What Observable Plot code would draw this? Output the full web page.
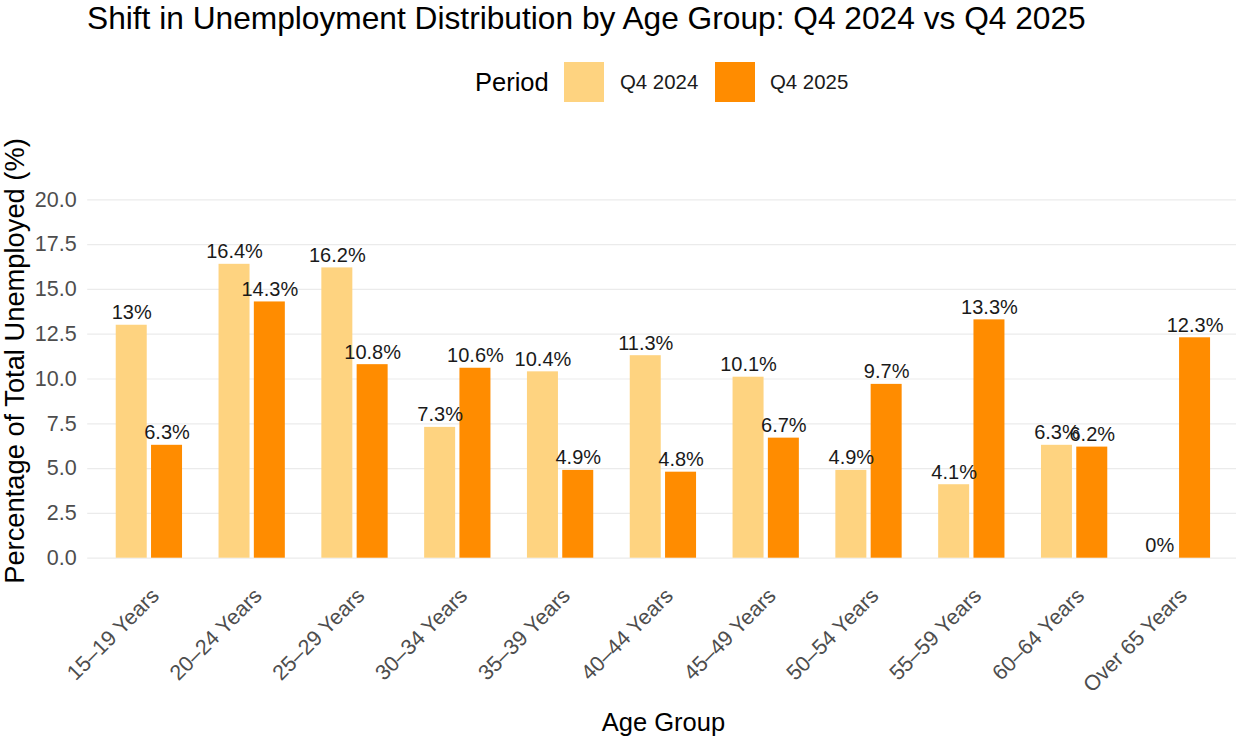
<!DOCTYPE html>
<html>
<head>
<meta charset="utf-8">
<script src="https://cdn.jsdelivr.net/npm/d3@7"></script>
<script src="https://cdn.jsdelivr.net/npm/@observablehq/plot@0.6"></script>
<style>
  html, body { margin: 0; padding: 0; background: #fff; }
  body { width: 1236px; height: 739px; overflow: hidden; font-family: "Liberation Sans", Arial, sans-serif; }
  #wrap { position: relative; width: 1236px; height: 739px; }
  #header { position: relative; width: 1236px; height: 110px; }
  #title { position: absolute; left: 87px; top: 3px; font-size: 31.7px; line-height: 31.7px; color: #000; white-space: nowrap; }
  .lg { position: absolute; white-space: nowrap; line-height: 40px; height: 40px; top: 62px; }
  .sw { position: absolute; width: 40px; height: 40px; top: 62px; }
  #ytitle { position: absolute; left: 15px; top: 360.5px; transform: translate(-50%, -50%) rotate(-90deg);
            font-size: 27.3px; line-height: 27.3px; color: #000; white-space: nowrap; z-index: 2; }
  #chart svg { display: block; overflow: visible; }
</style>
</head>
<body>
<div id="wrap">
  <div id="header">
    <div id="title">Shift in Unemployment Distribution by Age Group: Q4 2024 vs Q4 2025</div>
    <div class="lg" id="lgTitle" style="left:475px; font-size:25.5px; color:#000;">Period</div>
    <div class="sw" id="sw0" style="left:564px;"></div>
    <div class="lg" id="lg0" style="left:620px; font-size:20.4px; color:#1a1a1a;"></div>
    <div class="sw" id="sw1" style="left:715px;"></div>
    <div class="lg" id="lg1" style="left:770px; font-size:20.4px; color:#1a1a1a;"></div>
  </div>
  <div id="ytitle"></div>
  <div id="chart"></div>
</div>
<script>
// ---- data ----
const ageGroups = ["15–19 Years", "20–24 Years", "25–29 Years", "30–34 Years", "35–39 Years",
  "40–44 Years", "45–49 Years", "50–54 Years", "55–59 Years", "60–64 Years", "Over 65 Years"];
const periods = ["Q4 2024", "Q4 2025"];
const q4_2024 = [13, 16.4, 16.2, 7.3, 10.4, 11.3, 10.1, 4.9, 4.1, 6.3, 0];
const q4_2025 = [6.3, 14.3, 10.8, 10.6, 4.9, 4.8, 6.7, 9.7, 13.3, 6.2, 12.3];
const yTicks = [0, 2.5, 5, 7.5, 10, 12.5, 15, 17.5, 20];
const periodColors = ["#FED380", "#FF8C00"];
const xTitle = "Age Group";
const yTitle = "Percentage of Total Unemployed (%)";

// legend + y title
document.getElementById("sw0").style.background = periodColors[0];
document.getElementById("sw1").style.background = periodColors[1];
document.getElementById("lg0").textContent = periods[0];
document.getElementById("lg1").textContent = periods[1];
document.getElementById("ytitle").textContent = yTitle;

const rows2024 = ageGroups.map((g, i) => ({group: g, period: periods[0], value: q4_2024[i]}));
const rows2025 = ageGroups.map((g, i) => ({group: g, period: periods[1], value: q4_2025[i]}));

const W = 1236, H = 629;
const mL = 87.2, mR = -2.6;
const step = (W - mL - mR) / 11.2;
const band = step * 0.7;
const barW = 31, gap = 4.3;
const outer = band / 2 - barW - gap / 2;
const inner = band / 2 + gap / 2;
const off = (barW + gap) / 2;
const fmt = d => `${d}%`;

const plot = Plot.plot({
  width: W,
  height: H,
  marginLeft: mL,
  marginRight: mR,
  marginTop: 89.3,
  marginBottom: 181.3,
  style: {fontFamily: "Liberation Sans, Arial, sans-serif", fontSize: "21.5px", background: "transparent"},
  x: {type: "band", domain: ageGroups, paddingInner: 0.3, paddingOuter: 0.25, align: 0.5, round: false, label: null},
  y: {domain: [0, 20], label: null},
  marks: [
    Plot.ruleY(yTicks, {stroke: "#ebebeb", strokeWidth: 1.2}),
    Plot.barY(rows2024, {x: "group", y: "value", fill: periodColors[0], insetLeft: outer, insetRight: inner}),
    Plot.barY(rows2025, {x: "group", y: "value", fill: periodColors[1], insetLeft: inner, insetRight: outer}),
    Plot.text(rows2024, {x: "group", y: "value", text: d => fmt(d.value), dx: -off, dy: -6, lineAnchor: "bottom", fontSize: 20, fill: "#1a1a1a"}),
    Plot.text(rows2025, {x: "group", y: "value", text: d => fmt(d.value), dx: off, dy: -6, lineAnchor: "bottom", fontSize: 20, fill: "#1a1a1a"}),
    Plot.axisY(yTicks, {tickSize: 0, tickPadding: 11, tickFormat: d => d.toFixed(1), color: "#4d4d4d", fontSize: 21.5, label: null}),
    Plot.axisX({tickSize: 0, tickPadding: 34, tickRotate: -45, dx: 6, color: "#4d4d4d", fontSize: 21.5, label: null}),
    Plot.text([xTitle], {frameAnchor: "bottom", dy: 173, dx: 0, lineAnchor: "bottom", fontSize: 25.5, fill: "#000"})
  ]
});
document.getElementById("chart").appendChild(plot);
</script>
</body>
</html>
